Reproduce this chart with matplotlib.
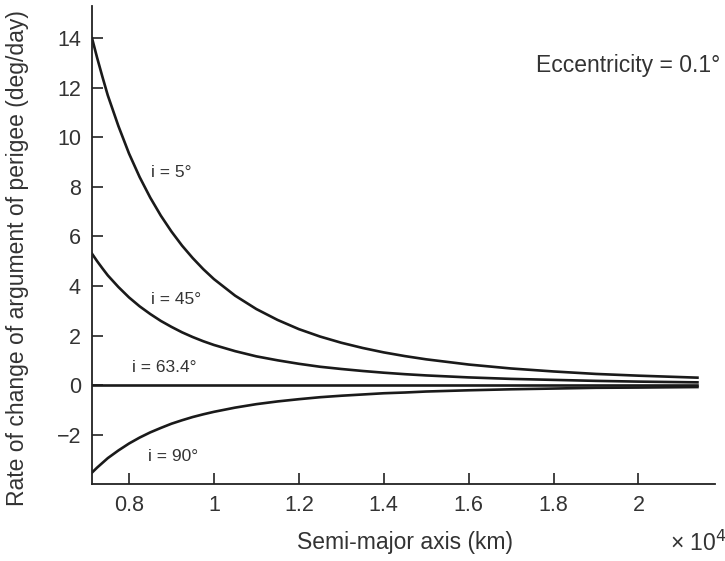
import matplotlib.pyplot as plt

plt.rcParams['font.family'] = ['Liberation Sans', 'DejaVu Sans']

# semi-major axis (x 10^4 km)
a = [0.713, 0.725, 0.7375, 0.75, 0.775, 0.8, 0.825, 0.85, 0.875, 0.9, 0.925, 0.95,
     0.975, 1.0, 1.05, 1.1, 1.15, 1.2, 1.25, 1.3, 1.35, 1.4, 1.45, 1.5, 1.6, 1.7,
     1.8, 1.9, 2.0, 2.139]
# rate of change of argument of perigee (deg/day) for each inclination
rate_i5 = [14.0, 13.21, 12.44, 11.7, 10.46, 9.35, 8.40, 7.57, 6.84, 6.2, 5.63, 5.13,
           4.68, 4.28, 3.61, 3.07, 2.63, 2.26, 1.96, 1.71, 1.50, 1.32, 1.17, 1.04, 0.83, 0.67,
           0.55, 0.45, 0.38, 0.30]
rate_i45 = [5.30, 5.00, 4.71, 4.43, 3.96, 3.54, 3.18, 2.87, 2.59, 2.35, 2.13, 1.94,
            1.77, 1.62, 1.37, 1.16, 1.00, 0.86, 0.74, 0.65, 0.57, 0.50, 0.44, 0.39, 0.31, 0.25,
            0.21, 0.17, 0.14, 0.11]
rate_i634 = [0.0] * len(a)
rate_i90 = [-3.53, -3.33, -3.14, -2.95, -2.64, -2.36, -2.12, -1.91, -1.73, -1.56, -1.42, -1.29,
            -1.18, -1.08, -0.91, -0.77, -0.66, -0.57, -0.49, -0.43, -0.38, -0.33, -0.30, -0.26,
            -0.21, -0.17, -0.14, -0.11, -0.10, -0.08]

labels = ['i = 5°', 'i = 45°', 'i = 63.4°', 'i = 90°']
label_pos = [(0.899, 8.6), (0.911, 3.47), (0.883, 0.69), (0.904, -2.9)]

fig = plt.figure(figsize=(7.25, 5.61), dpi=100)
ax = fig.add_axes([0.127, 0.137, 0.859, 0.852])

for r in [rate_i5, rate_i45, rate_i634, rate_i90]:
    ax.plot(a, r, color='#1a1a1a', lw=1.9)

for lab, (x, y) in zip(labels, label_pos):
    ax.text(x, y, lab, fontsize=12.5, color='#333333', ha='center', va='center')

ax.set_xlim(0.713, 2.18)
ax.set_ylim(-4, 15.3)
ax.set_xticks([0.8, 1, 1.2, 1.4, 1.6, 1.8, 2])
ax.set_xticklabels(['0.8', '1', '1.2', '1.4', '1.6', '1.8', '2'])
ax.set_yticks([-2, 0, 2, 4, 6, 8, 10, 12, 14])
ax.set_yticklabels(['\u22122', '0', '2', '4', '6', '8', '10', '12', '14'])

for s in ['top', 'right']:
    ax.spines[s].set_visible(False)
for s in ['left', 'bottom']:
    ax.spines[s].set_linewidth(1.3)
    ax.spines[s].set_color('#222222')

ax.tick_params(direction='in', length=8, width=1.2, labelsize=15.5,
               labelcolor='#333333', color='#222222', pad=8)

fig.text(405 / 725, 1 - 543 / 561, 'Semi-major axis (km)', fontsize=16.5,
         color='#333333', ha='center', va='center')
fig.text(18 / 725, 1 - 258 / 561, 'Rate of change of argument of perigee (deg/day)',
         fontsize=16.5, color='#333333', ha='center', va='center', rotation=90)

fig.text(0.924, 1 - 543 / 561, '\u00d7 10$^4$', fontsize=16.5, color='#333333',
         ha='left', va='center')
fig.text(0.993, 0.884, 'Eccentricity = 0.1°', fontsize=16.5, color='#333333',
         ha='right', va='center')

fig.savefig('out.png', dpi=100)
